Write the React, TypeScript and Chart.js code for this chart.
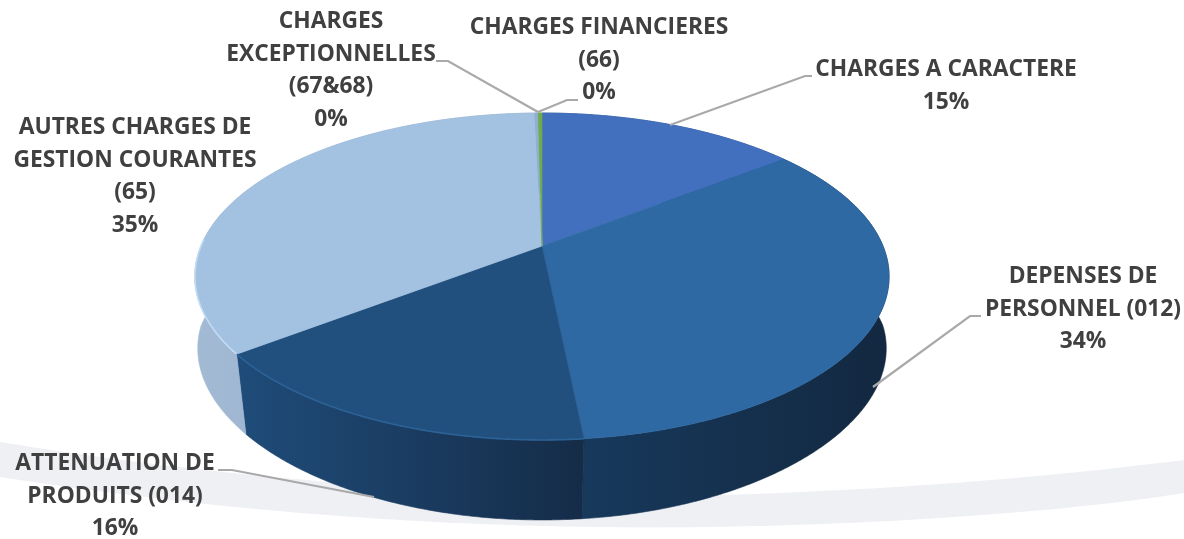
import React, { useEffect, useRef } from "react";
import { Chart, registerables } from "chart.js";

Chart.register(...registerables);

const categories = [
  "CHARGES A CARACTERE",
  "DEPENSES DE PERSONNEL (012)",
  "ATTENUATION DE PRODUITS (014)",
  "AUTRES CHARGES DE GESTION COURANTES (65)",
  "CHARGES EXCEPTIONNELLES (67&68)",
  "CHARGES FINANCIERES (66)",
];
const values = [14.5, 33.9, 16.2, 35.0, 0.2, 0.2];
const wrappedNames = [
  ["CHARGES A CARACTERE"],
  ["DEPENSES DE", "PERSONNEL (012)"],
  ["ATTENUATION DE", "PRODUITS (014)"],
  ["AUTRES CHARGES DE", "GESTION COURANTES", "(65)"],
  ["CHARGES", "EXCEPTIONNELLES", "(67&68)"],
  ["CHARGES FINANCIERES", "(66)"],
];
const faceColors = ["#4270BF", "#2E69A4", "#21507F", "#A3C1E0", "#8FB0D0", "#70AD47"];
const wallLeft = ["#24407A", "#17395C", "#1F4C7A", "#A3BAD4", "#7F96B0", "#4A7330"];
const wallRight = ["#24407A", "#132840", "#152C48", "#88A5C5", "#7F96B0", "#4A7330"];
const rimColors = [null, null, "#2C6296", "#C3DBF4", null, null];

// Label layout: centre x, first line's middle y
const labelAnchors = [
  { x: 946, y: 70 }, { x: 1083, y: 277 }, { x: 115, y: 464 },
  { x: 135, y: 128 }, { x: 331, y: 22 }, { x: 599, y: 28 },
];
const leaderPaths = [
  [[670, 125], [805, 76], [812, 76]],
  [[873, 387], [970, 316], [981, 316]],
  [[218, 470], [232, 470], [374, 497]],
  [[],],
  [[436, 61], [448, 61], [538, 112]],
  [[538, 112], [567, 100], [578, 100]],
];

// Projection of the pie's unit circle into the tilted 3D view
const APEX_X = 542, APEX_Y = 246, PERSP = -0.1865, Y_GAIN = 111.9, X_GAIN = 341;
const DEPTH = 80, BASE_TAPER = 0.05;
const project = (a: number, base = false) => {
  const u = Math.cos(a), v = Math.sin(a), d = 1 + PERSP * v;
  const s = base ? 1 - BASE_TAPER * Math.max(v, 0) : 1;
  return [APEX_X + (s * X_GAIN * u) / d, (Y_GAIN * v + APEX_Y) / d + (base ? DEPTH : 0)];
};
const samples = (start: number, end: number) => {
  const n = Math.max(2, Math.ceil((end - start) / 0.008));
  return Array.from({ length: n + 1 }, (_, i) => start + ((end - start) * i) / n);
};

const pie3d = {
  id: "pie3d",
  beforeDraw(chart: any) {
    const { ctx } = chart;
    ctx.save();
    ctx.fillStyle = "#FFFFFF";
    ctx.fillRect(0, 0, chart.width, chart.height);
    ctx.fillStyle = "#EFF0F4";
    ctx.beginPath();
    ctx.moveTo(0, 442);
    ctx.bezierCurveTo(200, 475, 500, 505, 780, 493);
    ctx.bezierCurveTo(950, 486, 1080, 473, 1184, 460);
    ctx.lineTo(1184, 493);
    ctx.bezierCurveTo(1050, 515, 800, 530, 600, 527);
    ctx.bezierCurveTo(400, 525, 200, 508, 0, 477);
    ctx.closePath();
    ctx.fill();
    ctx.restore();
  },
  beforeDatasetsDraw(chart: any) {
    const { ctx } = chart;
    const arcs = chart.getDatasetMeta(0).data;
    ctx.save();
    // side walls
    arcs.forEach((arc: any, i: number) => {
      const angles = samples(arc.startAngle, arc.endAngle);
      const top = angles.map((a) => project(a));
      const bottom = angles.map((a) => project(a, true));
      const xs = [...top, ...bottom].map((p) => p[0]);
      const g = ctx.createLinearGradient(Math.min(...xs), 0, Math.max(...xs), 0);
      g.addColorStop(0, wallLeft[i]);
      g.addColorStop(1, wallRight[i]);
      ctx.fillStyle = g;
      ctx.strokeStyle = g;
      ctx.lineWidth = 0.6;
      ctx.beginPath();
      top.forEach((p, k) => (k ? ctx.lineTo(p[0], p[1]) : ctx.moveTo(p[0], p[1])));
      for (let k = bottom.length - 1; k >= 0; k--) ctx.lineTo(bottom[k][0], bottom[k][1]);
      ctx.closePath();
      ctx.fill();
      ctx.stroke();
    });
    // top faces
    arcs.forEach((arc: any, i: number) => {
      ctx.fillStyle = faceColors[i];
      ctx.strokeStyle = faceColors[i];
      ctx.lineWidth = 0.6;
      ctx.beginPath();
      ctx.moveTo(APEX_X, APEX_Y);
      samples(arc.startAngle, arc.endAngle).forEach((a) => {
        const p = project(a);
        ctx.lineTo(p[0], p[1]);
      });
      ctx.closePath();
      ctx.fill();
      ctx.stroke();
    });
    // bevel highlight on the near rim
    arcs.forEach((arc: any, i: number) => {
      if (!rimColors[i]) return;
      ctx.strokeStyle = rimColors[i];
      ctx.lineWidth = 1.6;
      ctx.beginPath();
      samples(arc.startAngle, arc.endAngle)
        .filter((a) => Math.sin(a) > -0.05)
        .forEach((a, k) => {
          const p = project(a);
          k ? ctx.lineTo(p[0], p[1]) : ctx.moveTo(p[0], p[1]);
        });
      ctx.stroke();
    });
    ctx.restore();
    return false;
  },
  afterDraw(chart: any) {
    const { ctx } = chart;
    ctx.save();
    ctx.strokeStyle = "#A9A9A9";
    ctx.lineWidth = 2.2;
    leaderPaths.forEach((path) => {
      if (path.length < 2) return;
      ctx.beginPath();
      path.forEach((p, k) => (k ? ctx.lineTo(p[0], p[1]) : ctx.moveTo(p[0], p[1])));
      ctx.stroke();
    });
    ctx.fillStyle = "#404040";
    ctx.font = 'bold 22.8px "Open Sans"';
    ctx.textAlign = "center";
    ctx.textBaseline = "middle";
    wrappedNames.forEach((lines, i) => {
      const all = [...lines, `${Math.round(values[i])}%`];
      all.forEach((t, k) => ctx.fillText(t, labelAnchors[i].x, labelAnchors[i].y + k * 32.5));
    });
    ctx.restore();
  },
};

export default function App() {
  const ref = useRef<HTMLCanvasElement>(null);
  useEffect(() => {
    const chart = new Chart(ref.current as HTMLCanvasElement, {
      type: "pie",
      data: { labels: categories, datasets: [{ data: values, backgroundColor: faceColors }] },
      options: {
        animation: false,
        responsive: false,
        rotation: 0,
        plugins: { legend: { display: false }, tooltip: { enabled: false } },
      },
      plugins: [pie3d],
    } as any);
    return () => chart.destroy();
  }, []);
  return (
    <div style={{ position: "fixed", left: 0, top: 0, width: 1184, height: 539, overflow: "hidden" }}>
      <canvas ref={ref} width={1184} height={539} style={{ display: "block" }} />
    </div>
  );
}
